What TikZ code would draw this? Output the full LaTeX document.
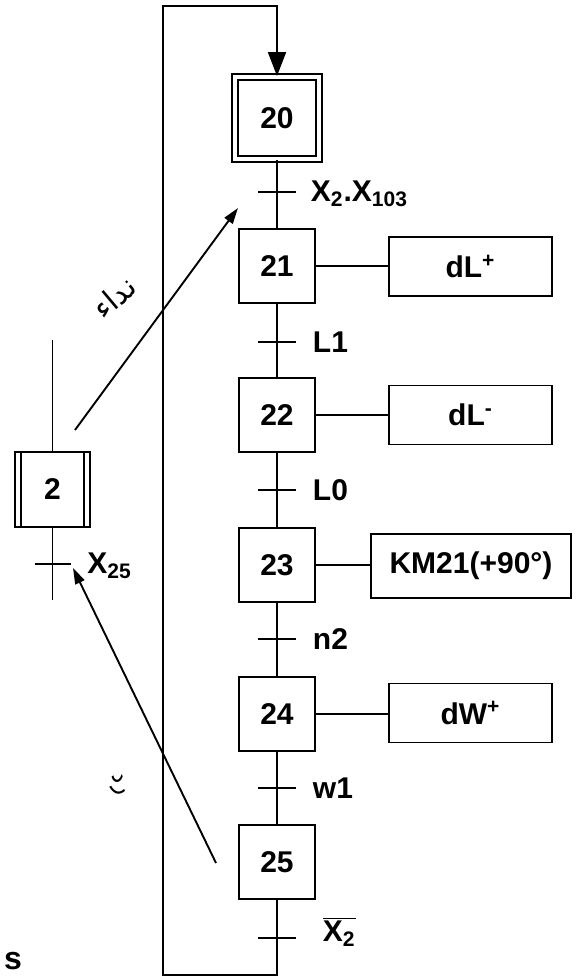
\documentclass[tikz,border=0pt]{standalone}
\usepackage{fontspec}
\setmainfont{Liberation Sans}
\newfontfamily\arabicfont[Script=Arabic]{DejaVu Sans}
\TeXXeTstate=1
\usepackage{tkz-euclide}
\usetikzlibrary{calc}
\usetikzlibrary{arrows.meta}

\tikzset{etape/.style={draw,minimum width=38pt,minimum height=37pt,inner sep=0pt,font=\fontsize{15}{18}\selectfont\bfseries},
         etapeinit/.style={etape,double,double distance=2.1pt,minimum width=42pt,minimum height=41pt},
         action/.style={draw,minimum width=81.5pt,minimum height=29.5pt,inner sep=2pt,font=\fontsize{15}{18}\selectfont\bfseries},
         recept/.style={anchor=west,inner sep=0pt,font=\fontsize{15}{18}\selectfont\bfseries},
         fleche/.style={-{Triangle[length=8pt,width=5pt]}}}

\begin{document}
\begin{tikzpicture}[x=0.5pt,y=-0.5pt,line width=0.95pt]
                    \useasboundingbox (0,0) rectangle (578,979);

                    \node[etapeinit] (s20) at (277,118) {20};
                    \node[etape] (s21) at (277,266) {21};
                    \node[etape] (s22) at (277,415) {22};
                    \node[etape] (s23) at (277,565) {23};
                    \node[etape] (s24) at (277,714) {24};
                    \node[etape] (s25) at (277,862) {25};

                    \node[action] (a21) at (470.5,266.5) {dL\textsuperscript{+}};
                    \node[action] (a22) at (470.5,415) {dL\textsuperscript{-}};
                    \node[action,minimum width=100pt,minimum height=32pt] (a23) at (471,566) {KM21(+90°)};
                    \node[action] (a24) at (470.5,713) {dW\textsuperscript{+}};

                    \tkzDefPoint(277,192){T1}
                    \tkzDefPoint(277,342){T2}
                    \tkzDefPoint(277,490){T3}
                    \tkzDefPoint(277,639){T4}
                    \tkzDefPoint(277,788){T5}
                    \tkzDefPoint(277,938){T6}

                    \draw (s20) -- (s21) -- (s22) -- (s23) -- (s24) -- (s25);
                    \foreach \t in {T1,T2,T3,T4,T5,T6}
                        \draw ($(\t)+(-19,0)$) -- ($(\t)+(19,0)$);

                    \node[recept] (c1) at ($(T1)+(33,2)$) {X\textsubscript{2}.X\textsubscript{103}};
                    \node[recept] (c2) at ($(T2)+(35,0)$) {L1};
                    \node[recept] (c3) at ($(T3)+(35,0)$) {L0};
                    \node[recept] (c4) at ($(T4)+(35,0)$) {n2};
                    \node[recept] (c5) at ($(T5)+(35,0)$) {w1};
                    \node[recept] (c6) at ($(T6)+(45,-6)$) {$\overline{\hbox{X\textsubscript{2}}}$};

                    \foreach \e in {21,22,23,24}
                        \draw (s\e.east) -- (s\e.east -| a\e.west);

                    \tkzDefPoint(277,975){B1}
                    \tkzDefPoint(163,975){B2}
                    \tkzDefPoint(163,6){H1}
                    \tkzDefPoint(277,6){H2}
                    \draw[-{Triangle[length=12pt,width=9pt]}] (s25) -- (B1) -- (B2) -- (H1) -- (H2) -- (s20.north);

                    \node[etape,minimum width=37.5pt,minimum height=37.5pt] (s2) at (52.5,489.5) {2};
                    \draw ($(s2.north west)+(3.5pt,0)$) -- ($(s2.south west)+(3.5pt,0)$);
                    \draw ($(s2.north east)+(-3.5pt,0)$) -- ($(s2.south east)+(-3.5pt,0)$);
                    \tkzDefPoint(52.5,340){D1}
                    \tkzDefPoint(52.5,600){D2}
                    \tkzDefPoint(52.5,564){T0}
                    \draw (D1) -- (s2) -- (D2);
                    \draw ($(T0)+(-18,0)$) -- ($(T0)+(18,0)$);
                    \node[recept] (c0) at ($(T0)+(34,2)$) {X\textsubscript{25}};

                    \tkzDefPoint(75,430){A1}
                    \tkzDefPoint(238,208){A2}
                    \tkzDefPoint(216,863){R1}
                    \tkzDefPoint(73,568){R2}
                    \draw[fleche] (A1) -- (A2);
                    \draw[fleche] (R1) -- (R2);

                    \node[rotate=40,inner sep=0pt,font=\arabicfont\fontsize{15}{18}\selectfont] (nida) at (114,297) {\beginR نداء\endR};
                    \node[rotate=-64,inner sep=0pt,font=\arabicfont\fontsize{12}{14}\selectfont] (radd) at (118,785) {\beginR رد\endR};
                    \node[inner sep=0pt,font=\fontsize{16}{18}\selectfont\bfseries] (lettre) at (13,961) {s};
\end{tikzpicture}
\end{document}
